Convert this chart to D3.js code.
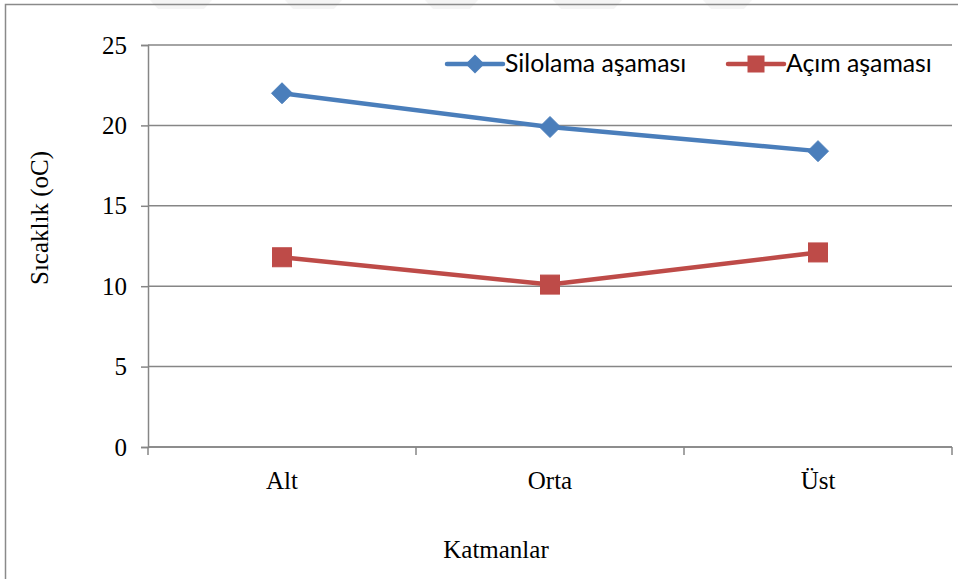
<!DOCTYPE html>
<html>
<head>
<meta charset="utf-8">
<script src="https://cdn.jsdelivr.net/npm/d3@7/dist/d3.min.js"></script>
<style>
  html, body { margin: 0; padding: 0; background: #fff; }
  svg { display: block; }
</style>
</head>
<body>
<svg id="chart" width="958" height="579"></svg>
<script>
// Sıcaklık ölçümleri: katmanlara göre silolama ve açım aşamaları
const categories = ["Alt", "Orta", "Üst"];
const silolama = [22.0, 19.9, 18.4];
const acim = [11.8, 10.1, 12.1];
const seriesNames = ["Silolama aşaması", "Açım aşaması"];
const yTicks = [0, 5, 10, 15, 20, 25];

const svg = d3.select("#chart");
const W = 958, H = 579;
const margin = { left: 148, right: 6, top: 45, bottom: 132 };
const serif = "'Liberation Serif', 'Times New Roman', serif";
const serifSize = 25;

// faint background decoration along the top edge
const deco = [[150, 212], [285, 342], [425, 478], [553, 622], [703, 752]];
svg.append("g").selectAll("path").data(deco).join("path")
  .attr("d", d => `M${d[0]},0 L${d[1]},0 L${d[1] - 8},9 L${d[0] + 8},9 Z`)
  .attr("fill", "#f5f5f5");

// chart area border
svg.append("path")
  .attr("d", `M5.5,${H} L5.5,4.5 L${W},4.5`)
  .attr("fill", "none").attr("stroke", "#8a8a8a").attr("stroke-width", 1.5);

const x = d3.scaleBand().domain(categories)
  .range([margin.left, W - margin.right]).padding(0);
const y = d3.scaleLinear().domain([0, 25])
  .range([H - margin.bottom, margin.top]);

const gridColor = "#868686";

// horizontal gridlines
svg.append("g").selectAll("line").data(yTicks).join("line")
  .attr("x1", margin.left).attr("x2", W - margin.right)
  .attr("y1", d => y(d)).attr("y2", d => y(d))
  .attr("stroke", gridColor).attr("stroke-width", 1.5);

// y axis
const yAxis = svg.append("g")
  .attr("transform", `translate(${margin.left},0)`)
  .call(d3.axisLeft(y).tickValues(yTicks).tickSize(7).tickPadding(14).tickFormat(d3.format("d")));
yAxis.select(".domain").attr("stroke", gridColor).attr("stroke-width", 1.5);
yAxis.selectAll(".tick line").attr("stroke", gridColor).attr("stroke-width", 1.5);
yAxis.selectAll(".tick text")
  .attr("font-family", serif)
  .attr("font-size", serifSize).attr("fill", "#000");

// x axis with boundary ticks between categories
const xAxisG = svg.append("g")
  .attr("transform", `translate(0,${y(0)})`);
xAxisG.append("line")
  .attr("x1", margin.left).attr("x2", W - margin.right)
  .attr("stroke", gridColor).attr("stroke-width", 1.5);
const bounds = categories.map(c => x(c)).concat([x(categories[categories.length - 1]) + x.bandwidth()]);
xAxisG.selectAll("line.tk").data(bounds).join("line").attr("class", "tk")
  .attr("x1", d => d).attr("x2", d => d).attr("y1", 0).attr("y2", 8)
  .attr("stroke", gridColor).attr("stroke-width", 1.5);
xAxisG.selectAll("text").data(categories).join("text")
  .attr("x", d => x(d) + x.bandwidth() / 2).attr("y", 42)
  .attr("text-anchor", "middle")
  .attr("font-family", serif)
  .attr("font-size", serifSize).attr("fill", "#000")
  .text(d => d);

// axis titles
svg.append("text")
  .attr("x", 496).attr("y", 558).attr("text-anchor", "middle")
  .attr("font-family", serif)
  .attr("font-size", serifSize).attr("fill", "#000").text("Katmanlar");
svg.append("text")
  .attr("transform", "translate(48,218) rotate(-90)").attr("text-anchor", "middle")
  .attr("font-family", serif)
  .attr("font-size", serifSize).attr("fill", "#000").text("Sıcaklık (oC)");

const cx = d => x(d) + x.bandwidth() / 2;
const blue = "#4a7ebb", red = "#be4b48";
const line = d3.line().x(d => cx(d.c)).y(d => y(d.v));

const sData = categories.map((c, i) => ({ c, v: silolama[i] }));
const aData = categories.map((c, i) => ({ c, v: acim[i] }));

const diamond = (px, py, r) => `M${px},${py - r} L${px + r},${py} L${px},${py + r} L${px - r},${py} Z`;

// Silolama series
svg.append("path").datum(sData).attr("d", line)
  .attr("fill", "none").attr("stroke", blue).attr("stroke-width", 4.5).attr("stroke-linejoin", "round");
svg.append("g").selectAll("path").data(sData).join("path")
  .attr("d", d => diamond(cx(d.c), y(d.v), 10.5))
  .attr("fill", blue).attr("stroke", blue).attr("stroke-width", 1).attr("stroke-linejoin", "round");

// Açım series
svg.append("path").datum(aData).attr("d", line)
  .attr("fill", "none").attr("stroke", red).attr("stroke-width", 4.5).attr("stroke-linejoin", "round");
svg.append("g").selectAll("rect").data(aData).join("rect")
  .attr("x", d => cx(d.c) - 9.5).attr("y", d => y(d.v) - 9.5)
  .attr("width", 19).attr("height", 19)
  .attr("fill", red).attr("stroke", red).attr("stroke-width", 1);

// legend
const legendFont = "Lato, 'Open Sans', sans-serif";
const legendItems = [
  { name: seriesNames[0], color: blue, x0: 447, marker: "diamond" },
  { name: seriesNames[1], color: red, x0: 728, marker: "square" }
];
const ly = 64;
const lg = svg.append("g");
legendItems.forEach(it => {
  lg.append("line").attr("x1", it.x0).attr("x2", it.x0 + 56)
    .attr("y1", ly).attr("y2", ly)
    .attr("stroke", it.color).attr("stroke-width", 4.5).attr("stroke-linecap", "round");
  const mx = it.x0 + 28;
  if (it.marker === "diamond") {
    lg.append("path").attr("d", diamond(mx, ly, 9.5)).attr("fill", it.color);
  } else {
    lg.append("rect").attr("x", mx - 8.5).attr("y", ly - 8.5).attr("width", 17).attr("height", 17).attr("fill", it.color);
  }
  lg.append("text").attr("x", it.x0 + 58).attr("y", ly + 8)
    .attr("font-family", legendFont).attr("font-size", 24.8).attr("fill", "#000")
    .text(it.name);
});
</script>
</body>
</html>
